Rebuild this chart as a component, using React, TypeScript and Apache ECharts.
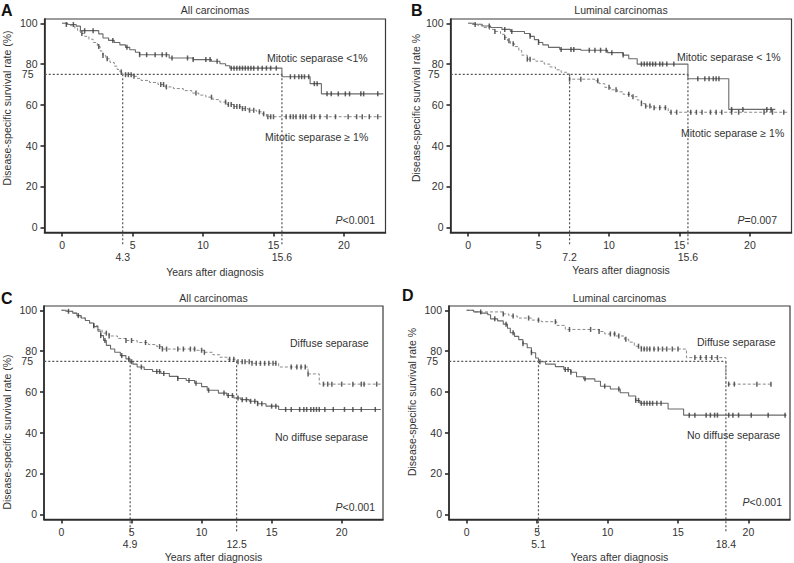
import React, { useEffect, useRef } from "react";
import * as echarts from "echarts";

// ---------- data ----------
const xTicks = [0, 5, 10, 15, 20];
const yTicks = [0, 20, 40, 60, 80, 100];
const refLevel = 75;

// Panel A: all carcinomas, mitotic separase
const aUpperSteps = [[0.4,99.4],[1.0,98.6],[1.3,96.4],[2.6,94.8],[2.9,92.8],[3.3,91.6],[3.7,90.6],[4.1,89.4],[4.5,88.2],[4.8,87.0],[5.2,85.8],[5.5,84.6],[7.6,83.0],[9.3,82.2],[10.6,81.4],[11.2,80.2],[11.6,79.2],[11.9,78.0],[15.6,73.8],[17.6,70.4],[18.4,65.4]];
const aUpperEnd = 22.8;
const aUpperCensor = [0.8,1.6,2.2,3.6,4.6,5.5,6.0,6.6,7.1,7.4,7.8,8.9,9.3,10.2,10.5,11.0,12.0,12.2,12.4,12.6,12.8,13.0,13.2,13.4,13.6,13.9,14.2,14.5,14.8,15.2,16.2,16.5,16.8,17.0,17.2,17.5,17.9,18.1,18.8,19.1,19.6,20.1,20.4,21.2,21.4,22.4];
const aLowerSteps = [[0.3,99.4],[0.6,98.8],[0.9,97.6],[1.1,96.2],[1.3,95.0],[1.6,93.6],[1.9,92.2],[2.2,90.6],[2.5,88.6],[2.7,86.4],[2.9,84.2],[3.1,82.6],[3.4,80.8],[3.7,79.0],[3.9,77.4],[4.1,76.2],[4.3,74.8],[5.0,74.0],[5.3,73.0],[5.6,72.0],[6.2,71.0],[6.8,70.0],[7.3,68.8],[7.9,68.0],[8.6,67.0],[9.2,65.8],[9.7,64.8],[10.2,63.8],[10.7,62.6],[11.2,61.4],[11.7,60.2],[12.2,59.2],[12.7,58.2],[13.2,57.4],[13.8,56.6],[14.2,55.6],[14.5,54.2]];
const aLowerEnd = 22.8;
const aLowerCensor = [0.3,1.4,2.6,2.9,3.2,4.2,4.5,4.7,4.9,5.1,7.0,7.2,7.4,9.5,10.6,11.6,11.8,12.0,12.2,12.4,12.6,12.8,13.0,13.3,13.6,14.0,14.3,14.6,14.8,15.0,15.9,16.2,16.4,16.6,16.9,17.1,17.3,17.7,17.9,18.3,18.8,19.4,20.3,20.9,21.3,21.8,22.4];
const aCross = [4.3, 15.6];

// Panel B: luminal carcinomas, mitotic separase
const bUpperSteps = [[0.4,99.5],[1.0,98.7],[1.6,97.9],[2.4,97.0],[3.0,96.0],[4.0,95.0],[4.4,93.6],[4.7,92.0],[5.0,90.6],[5.3,89.4],[5.7,88.2],[6.5,87.2],[8.0,86.8],[9.9,85.6],[11.0,84.4],[11.4,82.6],[12.0,80.0],[15.6,72.8],[18.5,57.8]];
const bUpperEnd = 21.8;
const bUpperCensor = [1.5,2.6,3.1,4.4,5.0,6.6,7.3,7.5,8.6,9.0,9.4,9.8,10.2,11.0,12.3,12.5,12.7,12.9,13.1,13.3,13.6,13.8,14.1,14.6,16.3,16.8,17.1,17.4,17.6,17.8,18.7,19.5,21.2,21.5];
const bLowerSteps = [[0.3,99.4],[0.7,98.8],[1.1,97.9],[1.5,97.0],[1.9,96.0],[2.3,94.6],[2.6,93.0],[2.8,91.4],[3.0,90.0],[3.3,88.6],[3.6,86.6],[3.8,84.4],[4.2,82.4],[4.8,81.4],[5.4,80.0],[5.8,78.6],[6.2,77.2],[6.6,76.0],[7.0,75.2],[7.2,72.6],[9.0,71.8],[9.3,70.4],[9.7,68.6],[10.1,67.4],[10.6,66.4],[11.0,65.2],[11.6,64.0],[12.0,62.4],[12.3,60.6],[12.6,59.4],[13.0,58.6],[14.2,56.4]];
const bLowerEnd = 22.7;
const bLowerCensor = [0.5,1.9,2.6,2.9,3.2,4.2,4.4,7.2,8.0,9.2,10.0,10.5,11.4,11.7,12.3,12.6,12.9,13.2,13.6,14.0,14.4,14.8,15.8,16.2,16.6,17.2,17.6,18.0,18.7,19.2,21.0,21.6,22.4];
const bCross = [7.2, 15.6];

// Panel C: all carcinomas, diffuse separase
const cUpperSteps = [[0.4,99.5],[0.8,98.6],[1.1,97.4],[1.4,96.2],[1.7,95.0],[2.0,93.8],[2.3,92.4],[2.6,90.6],[2.9,88.8],[3.4,87.4],[4.0,86.2],[4.6,85.2],[5.4,84.2],[6.2,83.2],[6.8,82.2],[7.2,81.0],[9.6,80.4],[10.2,79.4],[10.8,78.2],[11.3,77.0],[11.8,76.0],[12.5,74.8],[13.6,74.0],[15.5,72.2],[17.6,68.8],[18.4,63.8]];
const cUpperEnd = 22.8;
const cUpperCensor = [2.3,3.2,3.4,4.6,5.0,6.0,7.0,7.2,7.5,8.3,8.7,9.2,9.5,10.0,10.2,12.0,12.3,12.6,12.9,13.1,13.4,13.6,13.9,14.2,14.5,14.8,15.1,15.3,16.4,16.8,17.1,17.4,17.6,18.7,19.0,19.3,20.0,20.8,21.4,21.6,22.5];
const cLowerSteps = [[0.3,99.5],[0.8,98.6],[1.1,97.4],[1.4,96.2],[1.7,95.0],[2.0,93.8],[2.3,92.0],[2.6,89.8],[2.8,87.6],[3.0,85.2],[3.2,82.8],[3.5,81.0],[3.8,79.4],[4.2,77.8],[4.6,76.2],[4.9,74.8],[5.1,73.6],[5.4,72.2],[5.9,71.0],[6.5,70.0],[7.1,69.0],[7.7,67.6],[8.3,66.6],[8.9,65.6],[9.5,64.2],[10.0,62.6],[10.4,60.8],[11.2,59.4],[11.8,58.2],[12.3,57.0],[12.8,56.2],[13.4,55.4],[14.0,54.2],[14.6,53.0],[15.5,51.4]];
const cLowerEnd = 22.8;
const cLowerCensor = [0.5,1.2,2.8,3.1,4.3,4.8,5.0,5.7,6.8,7.0,7.3,8.3,9.1,9.6,10.5,11.6,11.9,12.2,12.6,12.9,13.2,13.5,13.8,14.0,14.3,15.0,15.3,16.0,16.4,17.0,17.3,17.5,17.8,18.0,18.2,18.4,18.8,19.4,20.2,20.8,21.4,22.4];
const cCross = [4.9, 12.5];

// Panel D: luminal carcinomas, diffuse separase
const dUpperSteps = [[0.5,99.2],[2.6,98.2],[3.0,97.2],[3.6,96.2],[4.6,95.2],[5.3,94.4],[6.4,92.6],[7.0,90.6],[9.4,89.6],[9.8,88.4],[10.6,87.4],[11.2,85.8],[11.5,84.4],[11.9,82.4],[12.4,81.0],[15.6,76.8],[18.4,63.8]];
const dUpperEnd = 21.6;
const dUpperCensor = [1.0,2.6,3.3,4.4,5.1,6.3,7.3,8.8,9.4,10.2,10.5,10.8,11.3,12.2,12.4,12.6,12.8,13.0,13.3,13.6,13.9,14.2,14.6,15.0,16.2,16.6,17.0,17.4,17.8,18.6,19.0,20.6,21.6];
const dLowerSteps = [[0.5,99.2],[1.0,98.6],[1.5,97.8],[1.7,95.8],[2.2,94.8],[2.6,93.2],[2.9,91.2],[3.1,89.0],[3.4,87.2],[3.7,85.6],[4.0,83.6],[4.3,81.6],[4.6,79.2],[4.9,76.6],[5.1,74.8],[5.6,73.6],[6.3,72.4],[6.9,71.0],[7.4,69.6],[7.8,67.4],[8.3,66.4],[9.1,65.2],[9.5,62.8],[10.2,61.4],[10.9,59.6],[11.5,58.0],[12.0,55.8],[12.3,54.4],[14.3,51.6],[15.4,48.6]];
const dLowerEnd = 22.7;
const dLowerCensor = [2.0,2.8,3.3,4.0,4.6,5.2,7.0,7.2,7.4,8.4,9.8,10.8,12.0,12.2,12.4,12.6,12.8,13.0,13.2,13.5,13.8,15.8,16.2,17.0,17.3,17.6,17.8,18.6,18.9,19.3,20.2,21.4,22.6];
const dCross = [5.1, 18.4];

// ---------- layout / style ----------
const FONT = "'Liberation Sans', Arial, Helvetica, sans-serif";
const TXT = "#333";
const X_MIN = -1.25, X_MAX = 22.95;
const Y_MIN = -2.5, Y_MAX = 102.1;

type Curve = { steps: number[][]; end: number; censor: number[]; dashed: boolean };
type Panel = {
  letter: string; title: string; yTitle: string;
  grid: { left: number; top: number; width: number; height: number };
  upper: Curve; lower: Curve; cross: number[];
  upperLabel: string; lowerLabel: string; pText: string;
  letterPos: number[]; titleY: number; xTitleY: number; yTitlePos: number[];
  upperLabelPos: number[]; lowerLabelPos: number[]; pPos: number[];
};

const panels: Panel[] = [
  {
    letter: "A", title: "All carcinomas", yTitle: "Disease-specific survival rate (%)",
    grid: { left: 44.5, top: 19, width: 341, height: 213.4 },
    upper: { steps: aUpperSteps, end: aUpperEnd, censor: aUpperCensor, dashed: false },
    lower: { steps: aLowerSteps, end: aLowerEnd, censor: aLowerCensor, dashed: true },
    cross: aCross,
    upperLabel: "Mitotic separase <1%", lowerLabel: "Mitotic separase \u2265 1%", pText: "{i|P}<0.001",
    letterPos: [1, 10], titleY: 10, xTitleY: 272, yTitlePos: [7, 108],
    upperLabelPos: [267, 58], lowerLabelPos: [265, 137], pPos: [375, 220],
  },
  {
    letter: "B", title: "Luminal carcinomas", yTitle: "Disease-specific survival rate %",
    grid: { left: 450.5, top: 19, width: 341, height: 213.4 },
    upper: { steps: bUpperSteps, end: bUpperEnd, censor: bUpperCensor, dashed: false },
    lower: { steps: bLowerSteps, end: bLowerEnd, censor: bLowerCensor, dashed: true },
    cross: bCross,
    upperLabel: "Mitotic separase < 1%", lowerLabel: "Mitotic separase \u2265 1%", pText: "{i|P}=0.007",
    letterPos: [411, 10], titleY: 10, xTitleY: 270, yTitlePos: [416, 108],
    upperLabelPos: [677, 57], lowerLabelPos: [681, 133], pPos: [777, 220],
  },
  {
    letter: "C", title: "All carcinomas", yTitle: "Disease-specific survival rate (%)",
    grid: { left: 44, top: 306, width: 339, height: 213.4 },
    upper: { steps: cUpperSteps, end: cUpperEnd, censor: cUpperCensor, dashed: true },
    lower: { steps: cLowerSteps, end: cLowerEnd, censor: cLowerCensor, dashed: false },
    cross: cCross,
    upperLabel: "Diffuse separase", lowerLabel: "No diffuse separase", pText: "{i|P}<0.001",
    letterPos: [1, 298], titleY: 298, xTitleY: 557, yTitlePos: [7, 432],
    upperLabelPos: [290, 343], lowerLabelPos: [275, 437], pPos: [375, 507],
  },
  {
    letter: "D", title: "Luminal carcinomas", yTitle: "Disease-specific survival rate %",
    grid: { left: 449, top: 306, width: 341, height: 213.4 },
    upper: { steps: dUpperSteps, end: dUpperEnd, censor: dUpperCensor, dashed: true },
    lower: { steps: dLowerSteps, end: dLowerEnd, censor: dLowerCensor, dashed: false },
    cross: dCross,
    upperLabel: "Diffuse separase", lowerLabel: "No diffuse separase", pText: "{i|P}<0.001",
    letterPos: [402, 295], titleY: 298, xTitleY: 557, yTitlePos: [412, 402],
    upperLabelPos: [697, 342], lowerLabelPos: [687, 435], pPos: [782, 502],
  },
];

function survivalAt(steps: number[][], t: number): number {
  let s = 100;
  for (const [time, val] of steps) {
    if (time <= t) s = val;
    else break;
  }
  return s;
}

function buildOption() {
  const grid: any[] = [];
  const xAxis: any[] = [];
  const yAxis: any[] = [];
  const series: any[] = [];
  const graphic: any[] = [];

  const axisLineStyle = { color: "#2a2a2a", width: 1.6 };
  const labelStyle = { color: TXT, fontSize: 10.5, fontFamily: FONT };

  panels.forEach((p, i) => {
    grid.push({ ...p.grid, show: true, borderColor: "#3a3a3a", borderWidth: 1.2, backgroundColor: "transparent" });

    xAxis.push({
      gridIndex: i, type: "value", position: "bottom", min: X_MIN, max: X_MAX,
      splitLine: { show: false },
      axisLine: { show: true, onZero: false, lineStyle: axisLineStyle },
      axisTick: { show: true, customValues: xTicks, length: 4, lineStyle: axisLineStyle },
      axisLabel: { ...labelStyle, customValues: xTicks, margin: 7 },
    });
    xAxis.push({
      gridIndex: i, type: "value", position: "bottom", min: X_MIN, max: X_MAX,
      splitLine: { show: false },
      axisLine: { show: false, onZero: false },
      axisTick: { show: false },
      axisLabel: { ...labelStyle, customValues: p.cross, margin: 19 },
    });
    yAxis.push({
      gridIndex: i, type: "value", position: "left", min: Y_MIN, max: Y_MAX,
      splitLine: { show: false },
      axisLine: { show: true, onZero: false, lineStyle: axisLineStyle },
      axisTick: { show: true, customValues: yTicks, length: 4, lineStyle: axisLineStyle },
      axisLabel: { ...labelStyle, customValues: yTicks, margin: 7 },
    });
    yAxis.push({
      gridIndex: i, type: "value", position: "left", min: Y_MIN, max: Y_MAX,
      splitLine: { show: false },
      axisLine: { show: false, onZero: false },
      axisTick: { show: false },
      axisLabel: { ...labelStyle, customValues: [refLevel], margin: 11 },
    });

    const xi = 2 * i, yi = 2 * i;
    [p.upper, p.lower].forEach((c) => {
      const last = c.steps[c.steps.length - 1][1];
      series.push({
        type: "line", xAxisIndex: xi, yAxisIndex: yi, step: "end", symbol: "none", silent: true,
        data: [[0, 100], ...c.steps, [c.end, last]],
        lineStyle: c.dashed ? { color: "#8a8a8a", width: 1, type: [3, 2] } : { color: "#6a6a6a", width: 1.1 },
        z: 3,
      });
      series.push({
        type: "scatter", xAxisIndex: xi, yAxisIndex: yi, symbol: "rect", symbolSize: [1.5, 5], silent: true,
        data: c.censor.map((t) => [t, survivalAt(c.steps, t)]),
        itemStyle: { color: "#3a3a3a" },
        z: 4,
      });
    });

    const refStyle = { color: "#555", width: 1.2, type: [2, 2] };
    series.push({
      type: "line", xAxisIndex: xi, yAxisIndex: yi, symbol: "none", silent: true, clip: false,
      data: [[-1.8, refLevel], [p.cross[1], refLevel]], lineStyle: refStyle, z: 2,
    });
    p.cross.forEach((c) => {
      series.push({
        type: "line", xAxisIndex: xi, yAxisIndex: yi, symbol: "none", silent: true, clip: false,
        data: [[c, refLevel], [c, -8.5]], lineStyle: refStyle, z: 2,
      });
    });

    const cx = p.grid.left + p.grid.width / 2;
    graphic.push(
      { type: "text", x: p.letterPos[0], y: p.letterPos[1], style: { text: p.letter, font: `bold 16px ${FONT}`, fill: "#111", verticalAlign: "middle" } },
      { type: "text", x: cx, y: p.titleY, style: { text: p.title, fontSize: 10.5, fontFamily: FONT, fill: TXT, align: "center", verticalAlign: "middle" } },
      { type: "text", x: cx, y: p.xTitleY, style: { text: "Years after diagnosis", fontSize: 10.5, fontFamily: FONT, fill: TXT, align: "center", verticalAlign: "middle" } },
      { type: "text", x: p.yTitlePos[0], y: p.yTitlePos[1], rotation: Math.PI / 2, style: { text: p.yTitle, fontSize: 10.5, fontFamily: FONT, fill: TXT, align: "center", verticalAlign: "middle" } },
      { type: "text", x: p.upperLabelPos[0], y: p.upperLabelPos[1], style: { text: p.upperLabel, fontSize: 10.5, fontFamily: FONT, fill: TXT, verticalAlign: "middle" } },
      { type: "text", x: p.lowerLabelPos[0], y: p.lowerLabelPos[1], style: { text: p.lowerLabel, fontSize: 10.5, fontFamily: FONT, fill: TXT, verticalAlign: "middle" } },
      { type: "text", x: p.pPos[0], y: p.pPos[1], style: { text: p.pText, fontSize: 10.5, fontFamily: FONT, fill: TXT, align: "right", verticalAlign: "middle", rich: { i: { fontStyle: "italic", fontSize: 10.5, fontFamily: FONT, fill: TXT } } } },
    );
  });

  return { animation: false, backgroundColor: "#fff", grid, xAxis, yAxis, series, graphic };
}

export default function App() {
  const ref = useRef<HTMLDivElement>(null);
  useEffect(() => {
    if (!ref.current) return;
    const chart = echarts.init(ref.current, null, { renderer: "svg" });
    chart.setOption(buildOption() as any);
    return () => chart.dispose();
  }, []);
  return <div ref={ref} style={{ position: "fixed", left: 0, top: 0, width: 794, height: 563, background: "#fff" }} />;
}
